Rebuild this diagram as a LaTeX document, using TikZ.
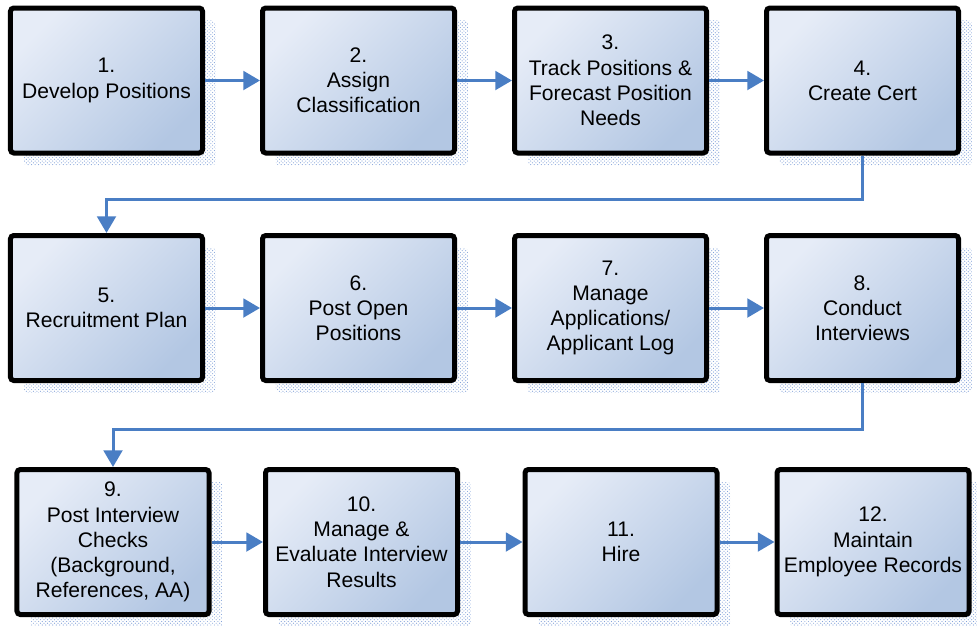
\documentclass[tikz,border=0pt]{standalone}
\usepackage{fontspec}
\setmainfont{Liberation Sans}
\usepackage{tikz}
\usetikzlibrary{shapes.geometric, arrows.meta, shadows, patterns}
\definecolor{boxlight}{HTML}{E6ECF7}
\definecolor{boxdark}{HTML}{B3C7E3}
\definecolor{linkblue}{HTML}{4A7EC4}
\definecolor{shadowdot}{HTML}{86A4DA}
\tikzstyle{stage} = [rectangle, rounded corners=0.1cm, minimum width=5.76cm, minimum height=4.35cm, align=center, font=\fontsize{18}{21.5}\selectfont, draw=black, line width=0.15cm, top color=boxlight, bottom color=boxdark, shading angle=45, drop shadow={shadow xshift=0.4cm, shadow yshift=-0.37cm, opacity=1, pattern=crosshatch dots, pattern color=shadowdot}]
\tikzstyle{arrow} = [line width=0.09cm, draw=linkblue, -{Triangle[length=0.5cm, width=0.56cm]}, linkblue]
\begin{document}
\begin{tikzpicture}[node distance=7.56cm]
		\useasboundingbox (-3.195,2.415) rectangle (26.115,-16.335);
		% first row
		\node (develop) [stage] {1.\\Develop Positions};
		\node (classify) [stage, right of=develop] {2.\\Assign\\Classification};
		\node (track) [stage, right of=classify] {3.\\Track Positions \&\\Forecast Position\\Needs};
		\node (cert) [stage, right of=track] {4.\\Create Cert};
		% second row
		\node (recruit) [stage, below of=develop, yshift=0.735cm] {5.\\Recruitment Plan};
		\node (post) [stage, right of=recruit] {6.\\Post Open\\Positions};
		\node (manage) [stage, right of=post] {7.\\Manage\\Applications/\\Applicant Log};
		\node (interview) [stage, right of=manage] {8.\\Conduct\\Interviews};
		% third row
		\node (checks) [stage, below of=recruit, xshift=0.195cm, yshift=0.54cm] {9.\\Post Interview\\Checks\\(Background,\\References, AA)};
		\node (evaluate) [stage, right of=checks, xshift=-0.105cm] {10.\\Manage \&\\Evaluate Interview\\Results};
		\node (hire) [stage, right of=evaluate, xshift=0.225cm] {11.\\Hire};
		\node (records) [stage, right of=hire] {12.\\Maintain\\Employee Records};
		\draw [arrow] (develop) -- (classify);
		\draw [arrow] (classify) -- (track);
		\draw [arrow] (track) -- (cert);
		\draw [arrow] (cert.south) -- ++(0,-1.32) -| (recruit.north);
		\draw [arrow] (recruit) -- (post);
		\draw [arrow] (post) -- (manage);
		\draw [arrow] (manage) -- (interview);
		\draw [arrow] (interview.south) -- ++(0,-1.4) -| (checks.north);
		\draw [arrow] (checks) -- (evaluate);
		\draw [arrow] (evaluate) -- (hire);
		\draw [arrow] (hire) -- (records);
	\end{tikzpicture}
\end{document}
